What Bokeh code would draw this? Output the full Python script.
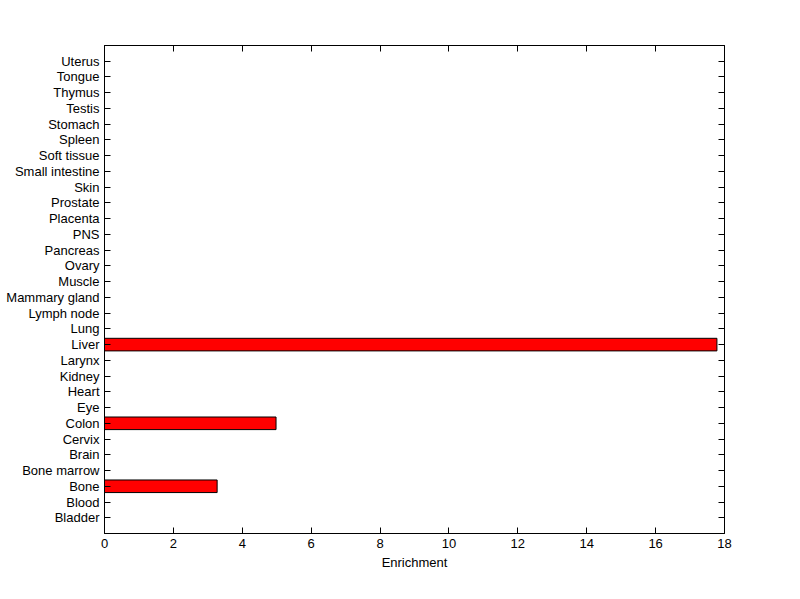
from bokeh.plotting import figure
from bokeh.models import Range1d, FixedTicker, LinearAxis, ColumnDataSource
from bokeh.embed import file_html
from bokeh.resources import INLINE

tissues = ["Bladder", "Blood", "Bone", "Bone marrow", "Brain", "Cervix", "Colon",
           "Eye", "Heart", "Kidney", "Larynx", "Liver", "Lung", "Lymph node",
           "Mammary gland", "Muscle", "Ovary", "Pancreas", "PNS", "Placenta",
           "Prostate", "Skin", "Small intestine", "Soft tissue", "Spleen",
           "Stomach", "Testis", "Thymus", "Tongue", "Uterus"]
enrichment = [0, 0, 3.27, 0, 0, 0, 4.98, 0, 0, 0, 0, 17.78, 0, 0, 0, 0, 0, 0, 0,
              0, 0, 0, 0, 0, 0, 0, 0, 0, 0, 0]
x_ticks = [0, 2, 4, 6, 8, 10, 12, 14, 16, 18]

positions = list(range(1, len(tissues) + 1))
sel = [i for i, v in enumerate(enrichment) if v > 0]
src = ColumnDataSource(dict(y=[positions[i] for i in sel],
                            right=[enrichment[i] for i in sel]))

FONT = "Liberation Sans"
FS = "13px"

p = figure(width=800, height=599, output_backend="svg", toolbar_location=None,
           x_range=Range1d(0, 18), y_range=Range1d(0, len(tissues) + 1),
           min_border_left=104, min_border_right=76, min_border_top=45,
           min_border_bottom=66, outline_line_color="black",
           background_fill_color="white", border_fill_color="white")

p.hbar(y="y", right="right", left=0, height=0.8, source=src,
       fill_color="#ff0000", line_color="black", line_width=1)

p.xgrid.visible = False
p.ygrid.visible = False

for ax in p.xaxis:
    ax.ticker = FixedTicker(ticks=x_ticks)
for ax in p.yaxis:
    ax.ticker = FixedTicker(ticks=positions)
    ax.major_label_overrides = {pos: name for pos, name in zip(positions, tissues)}

p.xaxis.axis_label = "Enrichment"
p.xaxis.axis_label_text_font_style = "normal"
p.xaxis.axis_label_text_font = FONT
p.xaxis.axis_label_text_font_size = FS
p.xaxis.axis_label_standoff = 4

top = LinearAxis(ticker=FixedTicker(ticks=x_ticks),
                 major_label_overrides={t: "" for t in x_ticks})
right = LinearAxis(ticker=FixedTicker(ticks=positions),
                   major_label_overrides={t: "" for t in positions})
p.add_layout(top, "above")
p.add_layout(right, "right")

for ax in p.axis:
    ax.major_tick_in = 6
    ax.major_tick_out = 0
    ax.minor_tick_in = 0
    ax.minor_tick_out = 0
    ax.axis_line_color = "black"
    ax.major_tick_line_color = "black"
    ax.major_label_text_font = FONT
    ax.major_label_text_color = "black"
    ax.axis_label_text_color = "black"
    ax.major_label_standoff = 5
    ax.major_label_text_font_size = FS

top.major_label_standoff = 0
right.major_label_standoff = 0

open("out.html", "w").write(file_html(p, INLINE))
